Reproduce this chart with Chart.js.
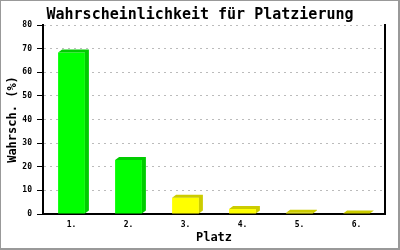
<!DOCTYPE html>
<html>
<head>
<meta charset="utf-8">
<script src="https://cdn.jsdelivr.net/npm/chart.js@4/dist/chart.umd.min.js"></script>
<style>
html,body{margin:0;padding:0;background:#fff;}
#wrap{width:400px;height:250px;position:relative;}
</style>
</head>
<body>
<div id="wrap"><canvas id="c" width="400" height="250"></canvas></div>
<script>
// ---- data ----
const categories = ["1.", "2.", "3.", "4.", "5.", "6."];
const probabilities = [68.4, 22.9, 6.9, 2.1, 0.5, 0.2];
const yTicks = [0, 10, 20, 30, 40, 50, 60, 70, 80];
const chartTitle = "Wahrscheinlichkeit für Platzierung";
const xTitle = "Platz";
const yTitle = "Wahrsch. (%)";

// ---- styles ----
const frontColors = ["#00ff00", "#00ff00", "#ffff00", "#ffff00", "#ffff00", "#ffff00"];
const shadeColors = ["#00cc00", "#00cc00", "#cccc00", "#cccc00", "#cccc00", "#cccc00"];
const MONO = "'DejaVu Sans Mono', 'Liberation Mono', monospace";

const frame = {
  id: 'frame',
  beforeDraw(chart) {
    const ctx = chart.ctx;
    ctx.save();
    ctx.fillStyle = '#fff';
    ctx.fillRect(0, 0, chart.width, chart.height);
    ctx.fillStyle = '#999999';
    ctx.fillRect(0, 0, chart.width, 1);
    ctx.fillRect(0, 0, 1, chart.height);
    ctx.fillRect(chart.width - 2, 0, 2, chart.height);
    ctx.fillRect(0, chart.height - 2, chart.width, 2);
    ctx.restore();
  }
};

const extrude = {
  id: 'extrude',
  afterDatasetsDraw(chart) {
    const ctx = chart.ctx;
    const meta = chart.getDatasetMeta(0);
    const dx = 4, dy = 3;
    ctx.save();
    meta.data.forEach((bar, i) => {
      const p = bar.getProps(['x', 'y', 'base', 'width'], true);
      const l = p.x - p.width / 2, r = p.x + p.width / 2;
      ctx.fillStyle = shadeColors[i];
      ctx.beginPath();
      ctx.moveTo(l, p.y);
      ctx.lineTo(l + dx, p.y - dy);
      ctx.lineTo(r + dx, p.y - dy);
      ctx.lineTo(r + dx, p.base - dy);
      ctx.lineTo(r, p.base);
      ctx.lineTo(r, p.y);
      ctx.closePath();
      ctx.fill();
    });
    ctx.restore();
  }
};

new Chart(document.getElementById('c'), {
  type: 'bar',
  data: {
    labels: categories,
    datasets: [{
      data: probabilities,
      backgroundColor: frontColors,
      borderWidth: 0,
      categoryPercentage: 1.0,
      barPercentage: 0.47
    }]
  },
  options: {
    responsive: false,
    animation: false,
    devicePixelRatio: 1,
    layout: { padding: 0 },
    plugins: {
      legend: { display: false },
      tooltip: { enabled: false },
      title: {
        display: true,
        text: chartTitle,
        color: '#000',
        font: { family: MONO, size: 15, weight: 'bold', lineHeight: 1.2 },
        padding: { top: 6, bottom: 1 }
      }
    },
    scales: {
      x: {
        grid: { display: false, drawTicks: false },
        border: { display: true, color: '#000', width: 2 },
        ticks: { color: '#000', font: { family: MONO, size: 8, weight: 'bold' }, padding: 6, maxRotation: 0 },
        title: { display: true, text: xTitle, color: '#000',
                 font: { family: MONO, size: 12, weight: 'bold' }, padding: { top: 0, bottom: 5 } },
        afterFit(s) { s.height = 36; }
      },
      y: {
        min: 0, max: 80,
        afterBuildTicks(s) { s.ticks = yTicks.map(v => ({ value: v })); },
        grid: {
          color: (c) => c.tick && c.tick.value === 0 ? 'rgba(0,0,0,0)' : '#bbbbbb',
          tickColor: '#000',
          tickLength: 6,
          tickBorderDash: [],
          drawTicks: true
        },
        border: { display: true, color: '#000', width: 2, dash: [2, 4] },
        ticks: { color: '#000', font: { family: MONO, size: 8, weight: 'bold' }, padding: 5 },
        title: { display: true, text: yTitle, color: '#000',
                 font: { family: MONO, size: 12, weight: 'bold' }, padding: { top: 6, bottom: 0 } },
        afterFit(s) { s.width = 43; }
      },
      yRight: {
        position: 'right',
        min: 0, max: 80,
        grid: { display: false, drawTicks: false },
        ticks: { display: false },
        border: { display: true, color: '#000', width: 2 },
        afterFit(s) { s.width = 15; }
      }
    }
  },
  plugins: [frame, extrude]
});
</script>
</body>
</html>
